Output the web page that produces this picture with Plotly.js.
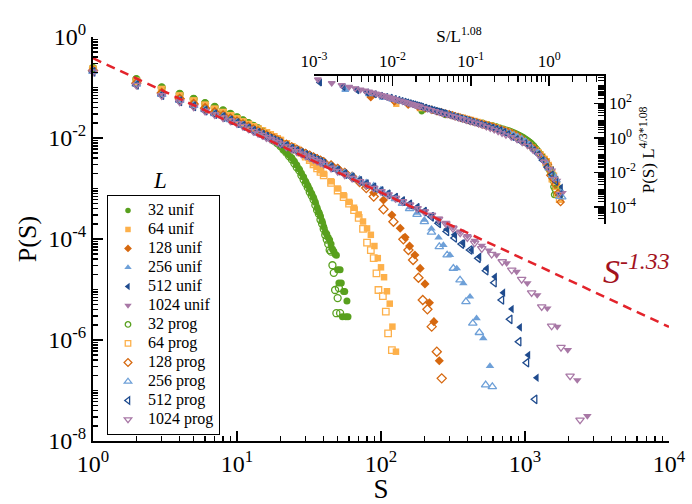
<!DOCTYPE html>
<html><head><meta charset="utf-8">
<script src="https://cdn.plot.ly/plotly-3.0.1.min.js"></script>
<style>
html,body{margin:0;padding:0;background:#fff;}
#chart{width:692px;height:504px;}
.legendtext{font-family:"Liberation Serif","Times New Roman",serif !important;font-size:16px !important;}
</style>
</head><body><div id="chart"></div>
<script>
// ---------- data ----------
const sizes = [32, 64, 128, 256, 512, 1024];
const colors = ['#58a01e', '#fdb04a', '#d6680f', '#6ea0d8', '#1f4b8e', '#a878a6'];
const symbols = ['circle', 'square', 'diamond', 'triangle-up', 'triangle-left', 'triangle-down'];

const S_32_unif = [1,2,3,4,5,6,7,8,9,10,11,12,13,14,15,16,17,18,19,20,21,22,23,24,25,26,27,28,29,30,31,32,33,34,35,36,37,38,39,40,41,42,43,44,45,46,47,48,49,50,51,52,53,54,55,56,57,58,59];
const P_32_unif = [2.45e-1,1.48e-1,1.01e-1,7.57e-2,6.03e-2,4.95e-2,4.18e-2,3.54e-2,3.03e-2,2.60e-2,2.26e-2,2.00e-2,1.77e-2,1.57e-2,1.37e-2,1.20e-2,1.06e-2,9.14e-3,8.11e-3,7.08e-3,6.05e-3,5.31e-3,4.60e-3,4.07e-3,3.47e-3,2.92e-3,2.43e-3,2.00e-3,1.68e-3,1.38e-3,1.15e-3,9.55e-4,7.94e-4,6.61e-4,5.37e-4,4.17e-4,3.39e-4,2.82e-4,2.24e-4,1.74e-4,1.38e-4,1.26e-4,1.07e-4,9.55e-5,7.94e-5,6.31e-5,5.75e-5,5.01e-5,4.79e-5,2.45e-5,1.35e-5,2.45e-5,1.35e-5,2.88e-6,9.12e-6,9.12e-6,2.88e-6,5.89e-6,2.88e-6];
const S_32_prog = [1,2,3,4,5,6,7,8,9,10,11,12,13,14,15,16,17,18,19,20,21,22,23,24,25,26,27,28,29,30,31,32,33,34,35,36,37,38,39,40,41,42,43,44,45,46,47,48,49,50,51,52];
const P_32_prog = [2.43e-1,1.46e-1,1.00e-1,7.50e-2,5.96e-2,4.90e-2,4.12e-2,3.51e-2,2.99e-2,2.57e-2,2.24e-2,1.97e-2,1.74e-2,1.55e-2,1.35e-2,1.17e-2,1.02e-2,8.91e-3,7.94e-3,6.92e-3,5.89e-3,5.13e-3,4.37e-3,3.80e-3,3.16e-3,2.63e-3,2.29e-3,1.82e-3,1.51e-3,1.26e-3,1.05e-3,8.51e-4,7.24e-4,6.03e-4,4.68e-4,3.72e-4,3.16e-4,2.40e-4,2.00e-4,1.58e-4,1.20e-4,9.77e-5,7.94e-5,6.03e-5,5.62e-5,3.02e-5,2.14e-5,9.77e-6,3.39e-6,6.76e-6,1.07e-5,3.39e-6];

const S_64_unif = [1,2,3,4,5,6,7,8,9,10,11,12,13,14,15,16,17,18,19,20,22,24,26,28,30,32,34,36,38,40,45,50,55,60,65,70,75,80,85,90,95,100,105,110,115,120,127];
const P_64_unif = [2.34e-1,1.35e-1,9.25e-2,6.90e-2,5.50e-2,4.52e-2,3.77e-2,3.23e-2,2.79e-2,2.43e-2,2.11e-2,1.88e-2,1.69e-2,1.53e-2,1.40e-2,1.29e-2,1.17e-2,1.07e-2,9.86e-3,9.12e-3,7.85e-3,6.84e-3,6.00e-3,5.19e-3,4.43e-3,3.78e-3,3.19e-3,2.70e-3,2.29e-3,1.95e-3,1.39e-3,1.00e-3,7.35e-4,5.43e-4,4.16e-4,3.06e-4,2.22e-4,1.62e-4,1.21e-4,7.26e-5,4.18e-5,2.75e-5,1.75e-5,9.23e-6,5.24e-6,1.84e-6,5.87e-7];
const S_64_prog = [1,2,3,4,5,6,7,8,9,10,11,12,13,14,15,16,17,18,19,20,22,24,26,28,30,32,34,36,38,40,45,50,55,60,65,70,75,80,85,89,93,96,103,108,112,119];
const P_64_prog = [2.29e-1,1.32e-1,9.04e-2,6.75e-2,5.37e-2,4.42e-2,3.68e-2,3.16e-2,2.73e-2,2.37e-2,2.07e-2,1.84e-2,1.65e-2,1.50e-2,1.37e-2,1.26e-2,1.15e-2,1.05e-2,9.64e-3,8.91e-3,7.67e-3,6.68e-3,5.86e-3,5.07e-3,4.27e-3,3.63e-3,3.02e-3,2.51e-3,2.14e-3,1.82e-3,1.29e-3,9.12e-4,6.76e-4,5.01e-4,3.72e-4,2.63e-4,1.58e-4,8.51e-5,6.03e-5,4.17e-5,2.09e-5,9.77e-6,7.41e-6,3.63e-6,1.35e-6,6.31e-7];

const S_128_unif = [1,2,3,4,5,6,7,8,9,10,11,12,13,14,15,16,17,18,19,20,22,24,26,28,30,32,34,36,38,40,45,50,56,63,71,79,89,104,119,136,147,158,172,187,202,217,233,254];
const P_128_unif = [2.19e-1,1.23e-1,7.87e-2,6.01e-2,4.79e-2,3.94e-2,3.28e-2,2.81e-2,2.43e-2,2.14e-2,1.88e-2,1.68e-2,1.51e-2,1.37e-2,1.25e-2,1.15e-2,1.06e-2,9.79e-3,9.10e-3,8.51e-3,7.50e-3,6.68e-3,6.00e-3,5.43e-3,4.97e-3,4.55e-3,4.21e-3,3.90e-3,3.62e-3,3.38e-3,2.92e-3,2.51e-3,2.10e-3,1.76e-3,1.44e-3,1.13e-3,8.25e-4,5.92e-4,2.99e-4,1.63e-4,1.08e-4,7.24e-5,4.82e-5,2.62e-5,1.29e-5,5.48e-6,2.31e-6,3.89e-7];
const S_128_prog = [1,2,3,4,5,6,7,8,9,10,11,12,13,14,15,16,17,18,19,20,22,24,26,28,30,32,34,36,38,40,45,50,56,63,71,79,89,104,122,143,155,167,182,195,210,225,244,264];
const P_128_prog = [2.16e-1,1.22e-1,7.76e-2,5.96e-2,4.73e-2,3.89e-2,3.24e-2,2.79e-2,2.40e-2,2.11e-2,1.86e-2,1.66e-2,1.48e-2,1.35e-2,1.23e-2,1.12e-2,1.04e-2,9.66e-3,8.91e-3,8.32e-3,7.33e-3,6.53e-3,5.89e-3,5.31e-3,4.84e-3,4.47e-3,4.12e-3,3.80e-3,3.55e-3,3.31e-3,2.85e-3,2.43e-3,2.04e-3,1.70e-3,1.35e-3,1.02e-3,6.92e-4,3.87e-4,2.20e-4,9.86e-5,6.05e-5,3.84e-5,1.71e-5,6.19e-6,4.05e-6,1.84e-6,5.87e-7,1.74e-7];

const S_256_unif = [1,2,3,4,5,6,7,8,9,10,11,12,13,14,15,16,17,18,19,20,22,24,26,28,30,32,34,36,38,40,45,50,56,63,71,79,89,100,112,126,141,158,178,200,224,251,271,301,336,373,415,461,513,571];
const P_256_unif = [2.09e-1,1.17e-1,7.35e-2,5.61e-2,4.47e-2,3.67e-2,3.06e-2,2.69e-2,2.32e-2,2.04e-2,1.80e-2,1.60e-2,1.44e-2,1.31e-2,1.19e-2,1.09e-2,1.01e-2,9.35e-3,8.69e-3,8.13e-3,7.16e-3,6.38e-3,5.73e-3,5.19e-3,4.74e-3,4.35e-3,4.02e-3,3.72e-3,3.46e-3,3.23e-3,2.79e-3,2.39e-3,2.05e-3,1.76e-3,1.51e-3,1.30e-3,1.11e-3,9.33e-4,7.82e-4,6.41e-4,5.25e-4,4.21e-4,3.29e-4,2.40e-4,1.60e-4,1.07e-4,7.60e-5,4.82e-5,2.62e-5,1.32e-5,7.21e-6,2.69e-6,1.08e-6,3.05e-7];
const S_256_prog = [1,2,3,4,5,6,7,8,9,10,11,12,13,14,15,16,17,18,19,20,22,24,26,28,30,32,34,36,38,40,45,50,56,63,71,79,89,100,112,126,141,158,178,200,224,254,288,318,354,389,434,482,533,593];
const P_256_prog = [2.07e-1,1.16e-1,7.24e-2,5.56e-2,4.42e-2,3.63e-2,3.02e-2,2.66e-2,2.29e-2,2.02e-2,1.78e-2,1.58e-2,1.41e-2,1.29e-2,1.17e-2,1.08e-2,1.00e-2,9.23e-3,8.61e-3,8.04e-3,7.08e-3,6.31e-3,5.69e-3,5.13e-3,4.68e-3,4.27e-3,3.98e-3,3.67e-3,3.43e-3,3.20e-3,2.75e-3,2.37e-3,2.02e-3,1.74e-3,1.48e-3,1.27e-3,1.10e-3,9.12e-4,7.67e-4,6.24e-4,5.07e-4,3.98e-4,3.07e-4,2.19e-4,1.36e-4,7.05e-5,4.82e-5,2.62e-5,1.54e-5,5.74e-6,2.14e-6,1.40e-6,1.29e-7,1.19e-7];

const S_512_unif = [1,2,3,4,5,6,7,8,9,10,11,12,13,14,15,16,17,18,19,20,22,24,26,28,30,32,34,36,38,40,45,50,56,63,71,79,89,100,112,126,141,158,178,200,224,251,286,324,373,427,482,542,619,706,809,923,1054,1205];
const P_512_unif = [2.07e-1,1.14e-1,7.18e-2,5.36e-2,4.27e-2,3.51e-2,2.99e-2,2.62e-2,2.27e-2,2.00e-2,1.76e-2,1.57e-2,1.41e-2,1.28e-2,1.16e-2,1.07e-2,9.86e-3,9.14e-3,8.49e-3,7.94e-3,7.00e-3,6.24e-3,5.60e-3,5.07e-3,4.63e-3,4.25e-3,3.93e-3,3.64e-3,3.38e-3,3.16e-3,2.66e-3,2.29e-3,1.96e-3,1.68e-3,1.44e-3,1.24e-3,1.06e-3,9.12e-4,7.82e-4,6.71e-4,5.76e-4,4.94e-4,4.24e-4,3.56e-4,2.85e-4,2.18e-4,1.56e-4,1.21e-4,8.22e-5,6.05e-5,4.47e-5,2.62e-5,1.79e-5,8.65e-6,4.11e-6,1.78e-6,5.05e-7,1.79e-7];
const S_512_prog = [1,2,3,4,5,6,7,8,9,10,11,12,13,14,15,16,17,18,19,20,22,24,26,28,30,32,34,36,38,40,45,50,56,63,71,79,89,100,112,126,141,158,178,200,224,251,286,324,363,415,474,536,612,689,787,908,1028,1172];
const P_512_prog = [2.04e-1,1.12e-1,7.08e-2,5.31e-2,4.22e-2,3.47e-2,2.95e-2,2.60e-2,2.24e-2,1.97e-2,1.74e-2,1.55e-2,1.38e-2,1.26e-2,1.15e-2,1.06e-2,9.77e-3,9.02e-3,8.41e-3,7.85e-3,6.92e-3,6.17e-3,5.50e-3,5.01e-3,4.57e-3,4.17e-3,3.89e-3,3.59e-3,3.35e-3,3.13e-3,2.63e-3,2.26e-3,1.93e-3,1.66e-3,1.41e-3,1.22e-3,1.05e-3,8.91e-4,7.67e-4,6.61e-4,5.62e-4,4.84e-4,4.12e-4,3.47e-4,2.75e-4,2.04e-4,1.41e-4,1.05e-4,7.94e-5,6.05e-5,4.15e-5,2.36e-5,1.36e-5,6.19e-6,2.57e-6,9.25e-7,3.55e-7,6.68e-8];

const S_1024_unif = [1,2,3,4,5,6,7,8,9,10,11,12,13,14,15,16,17,18,19,20,22,24,26,28,30,32,34,36,38,40,45,50,56,63,71,79,89,100,112,126,141,158,178,200,224,251,282,316,355,398,447,501,562,635,746,875,1038,1216,1429,1675,1982,2307,2710];
const P_1024_unif = [2.04e-1,1.12e-1,7.01e-2,5.24e-2,4.17e-2,3.43e-2,2.92e-2,2.56e-2,2.22e-2,1.95e-2,1.72e-2,1.53e-2,1.37e-2,1.25e-2,1.14e-2,1.045e-2,9.64e-3,8.93e-3,8.30e-3,7.76e-3,6.84e-3,6.10e-3,5.47e-3,4.95e-3,4.53e-3,4.15e-3,3.84e-3,3.56e-3,3.30e-3,3.08e-3,2.60e-3,2.23e-3,1.92e-3,1.64e-3,1.41e-3,1.21e-3,1.04e-3,8.91e-4,7.64e-4,6.56e-4,5.63e-4,4.83e-4,4.14e-4,3.56e-4,3.05e-4,2.56e-4,2.10e-4,1.72e-4,1.41e-4,1.15e-4,9.24e-5,7.40e-5,5.92e-5,4.82e-5,3.31e-5,2.25e-5,1.33e-5,7.78e-6,4.25e-6,1.84e-6,6.34e-7,1.61e-7,3.13e-8];
const S_1024_prog = [1,2,3,4,5,6,7,8,9,10,11,12,13,14,15,16,17,18,19,20,22,24,26,28,30,32,34,36,38,40,45,50,56,63,71,79,89,100,112,126,141,158,178,200,224,251,282,316,355,398,447,501,587,695,809,948,1112,1306,1531,1778,2056,2410];
const P_1024_prog = [2.02e-1,1.11e-1,6.92e-2,5.19e-2,4.12e-2,3.39e-2,2.88e-2,2.51e-2,2.19e-2,1.93e-2,1.70e-2,1.51e-2,1.35e-2,1.23e-2,1.12e-2,1.02e-2,9.44e-3,8.81e-3,8.13e-3,7.59e-3,6.68e-3,5.96e-3,5.37e-3,4.84e-3,4.42e-3,4.07e-3,3.76e-3,3.47e-3,3.24e-3,3.02e-3,2.54e-3,2.19e-3,1.86e-3,1.60e-3,1.38e-3,1.17e-3,1.01e-3,8.71e-4,7.50e-4,6.38e-4,5.50e-4,4.73e-4,4.03e-4,3.47e-4,2.95e-4,2.45e-4,2.00e-4,1.62e-4,1.32e-4,1.06e-4,8.32e-5,6.46e-5,4.98e-5,3.56e-5,2.43e-5,1.59e-5,8.65e-6,4.57e-6,1.89e-6,7.16e-7,1.94e-7,2.61e-8];

// reference power law S^-1.33 (dashed red line end points)
const lawS = [1, 10000];
const lawP = [3.8e-1, 1.82e-6];

// rescaling exponents used in the inset (from its axis titles)
const X_EXP = 1.08;
const Y_EXP = 4 / 3 * 1.08;

const unifS = [S_32_unif, S_64_unif, S_128_unif, S_256_unif, S_512_unif, S_1024_unif];
const unifP = [P_32_unif, P_64_unif, P_128_unif, P_256_unif, P_512_unif, P_1024_unif];
const progS = [S_32_prog, S_64_prog, S_128_prog, S_256_prog, S_512_prog, S_1024_prog];
const progP = [P_32_prog, P_64_prog, P_128_prog, P_256_prog, P_512_prog, P_1024_prog];

// ---------- traces ----------
const serif = 'Liberation Serif, Times New Roman, serif';
const mainSize = [7, 6.5, 7, 7.5, 7.5, 7.5];
const insetSize = [5.5, 5, 5.5, 6, 6, 6];
const legendSize = [5.5, 5.5, 6, 6.5, 6.5, 6.5];
const main = [], inset = [], legendOnly = [];

function addSet(Sarr, Parr, kind) {
  sizes.forEach((L, i) => {
    const open = kind === 'prog';
    const sym = open ? symbols[i] + '-open' : symbols[i];
    const mk = (sz) => ({symbol: sym, size: sz, color: colors[i],
      line: {color: colors[i], width: open ? 1.3 : 0}});
    const group = L + kind;
    main.push({
      x: Sarr[i], y: Parr[i], type: 'scatter', mode: 'markers', showlegend: false,
      name: L + ' ' + kind, legendgroup: group,
      marker: mk(mainSize[i]), cliponaxis: false, xaxis: 'x', yaxis: 'y'
    });
    // legend entry (smaller symbol, as in the reference legend box)
    legendOnly.push({
      x: [null], y: [null], type: 'scatter', mode: 'markers', showlegend: true,
      name: L + ' ' + kind,
      legendgroup: group, marker: mk(legendSize[i]), xaxis: 'x', yaxis: 'y'
    });
    const Ls = Math.pow(L, X_EXP), Lp = Math.pow(L, Y_EXP);
    inset.push({
      x: Sarr[i].map(s => s / Ls), y: Parr[i].map(p => p * Lp),
      type: 'scatter', mode: 'markers', showlegend: false, name: L + ' ' + kind,
      marker: mk(insetSize[i]), cliponaxis: true, xaxis: 'x2', yaxis: 'y2'
    });
  });
}
addSet(unifS, unifP, 'unif');
addSet(progS, progP, 'prog');

const lawTrace = {
  x: lawS, y: lawP, type: 'scatter', mode: 'lines', showlegend: false, name: 'S^-1.33',
  line: {color: '#e3232b', width: 2.5, dash: '9px,6px'}, cliponaxis: false,
  xaxis: 'x', yaxis: 'y'
};

// ---------- axes helpers ----------
function minors(k0, k1, includeOddDecades) {
  const v = [];
  for (let k = k0; k <= k1; k++) {
    for (let m = 2; m <= 9; m++) v.push(m * Math.pow(10, k));
    if (includeOddDecades && (k + 1) % 2 !== 0) v.push(Math.pow(10, k + 1));
  }
  return v;
}
const pw = e => '10<sup>' + e + '</sup>';

const axBase = {
  type: 'log', showline: true, linecolor: '#000', linewidth: 2,
  ticks: 'inside', tickcolor: '#000', tickwidth: 1.5,
  showgrid: false, zeroline: false, tickmode: 'array', mirror: false
};

const layout = {
  width: 692, height: 504,
  margin: {l: 93, r: 23, t: 37, b: 63, pad: 0},
  paper_bgcolor: '#ffffff', plot_bgcolor: 'rgba(0,0,0,0)',
  font: {family: serif, color: '#000'},
  showlegend: true,
  legend: {
    x: 0.0243, y: 0.609, xanchor: 'left', yanchor: 'top',
    bordercolor: '#000', borderwidth: 1, bgcolor: '#ffffff',
    font: {family: serif, size: 12, color: '#000'}, itemwidth: 30, tracegroupgap: 0
  },
  xaxis: Object.assign({}, axBase, {
    range: [0, 4], domain: [0, 1], anchor: 'y',
    ticklen: 10,
    tickvals: [1, 10, 100, 1000, 10000], ticktext: [pw(0), pw(1), pw(2), pw(3), pw(4)],
    tickfont: {family: serif, size: 24, color: '#000'},
    minor: {tickmode: 'array', tickvals: minors(0, 3, false), ticks: 'inside', ticklen: 5, tickwidth: 1.5, tickcolor: '#000', showgrid: false},
    title: {text: 'S', font: {family: serif, size: 27, color: '#000'}, standoff: 2}
  }),
  yaxis: Object.assign({}, axBase, {
    range: [-8, 0], domain: [0, 1], anchor: 'x',
    ticklen: 10,
    tickvals: [1, 1e-2, 1e-4, 1e-6, 1e-8], ticktext: [pw(0), pw(-2), pw(-4), pw(-6), pw(-8)],
    tickfont: {family: serif, size: 24, color: '#000'},
    minor: {tickmode: 'array', tickvals: minors(-8, -1, true), ticks: 'inside', ticklen: 5, tickwidth: 1.5, tickcolor: '#000', showgrid: false},
    title: {text: 'P(S)', font: {family: serif, size: 26, color: '#000'}, standoff: 4}
  }),
  xaxis2: Object.assign({}, axBase, {
    range: [-3, 0.70], domain: [0.3837, 0.8872], anchor: 'y2', side: 'top',
    ticklen: 10, linewidth: 1.5,
    tickvals: [1e-3, 1e-2, 1e-1, 1], ticktext: [pw(-3), pw(-2), pw(-1), pw(0)],
    tickfont: {family: serif, size: 17, color: '#000'},
    minor: {tickmode: 'array', tickvals: minors(-3, 0, false), ticks: 'inside', ticklen: 6, tickwidth: 1.2, tickcolor: '#000', showgrid: false},
    title: {text: 'S/L<sup>1.08</sup>', font: {family: serif, size: 17, color: '#000'}, standoff: 2}
  }),
  yaxis2: Object.assign({}, axBase, {
    range: [-5, 3.6], domain: [0.5371, 0.9042], anchor: 'x2', side: 'right',
    ticklen: 10, linewidth: 1.5,
    tickvals: [1e-4, 1e-2, 1, 1e2], ticktext: [pw(-4), pw(-2), pw(0), pw(2)],
    tickfont: {family: serif, size: 17, color: '#000'},
    minor: {tickmode: 'array', tickvals: minors(-5, 3, true), ticks: 'inside', ticklen: 6, tickwidth: 1.2, tickcolor: '#000', showgrid: false},
    title: {text: 'P(S) L<sup>4/3*1.08</sup>', font: {family: serif, size: 17, color: '#000'}, standoff: 2}
  }),
  annotations: [
    {text: 'L', xref: 'paper', yref: 'paper', x: 0.1163, y: 0.6436, xanchor: 'center', yanchor: 'middle',
     showarrow: false, font: {family: serif, size: 23, color: '#000', style: 'italic'}},
    {text: 'S<sup>-1.33</sup>', xref: 'paper', yref: 'paper', x: 0.944, y: 0.425, xanchor: 'center', yanchor: 'middle',
     showarrow: false, font: {family: serif, size: 34, color: '#a3121d', style: 'italic'}}
  ]
};

Plotly.newPlot('chart', main.concat([lawTrace]).concat(inset).concat(legendOnly), layout, {displayModeBar: false, staticPlot: true});
</script>
</body></html>
